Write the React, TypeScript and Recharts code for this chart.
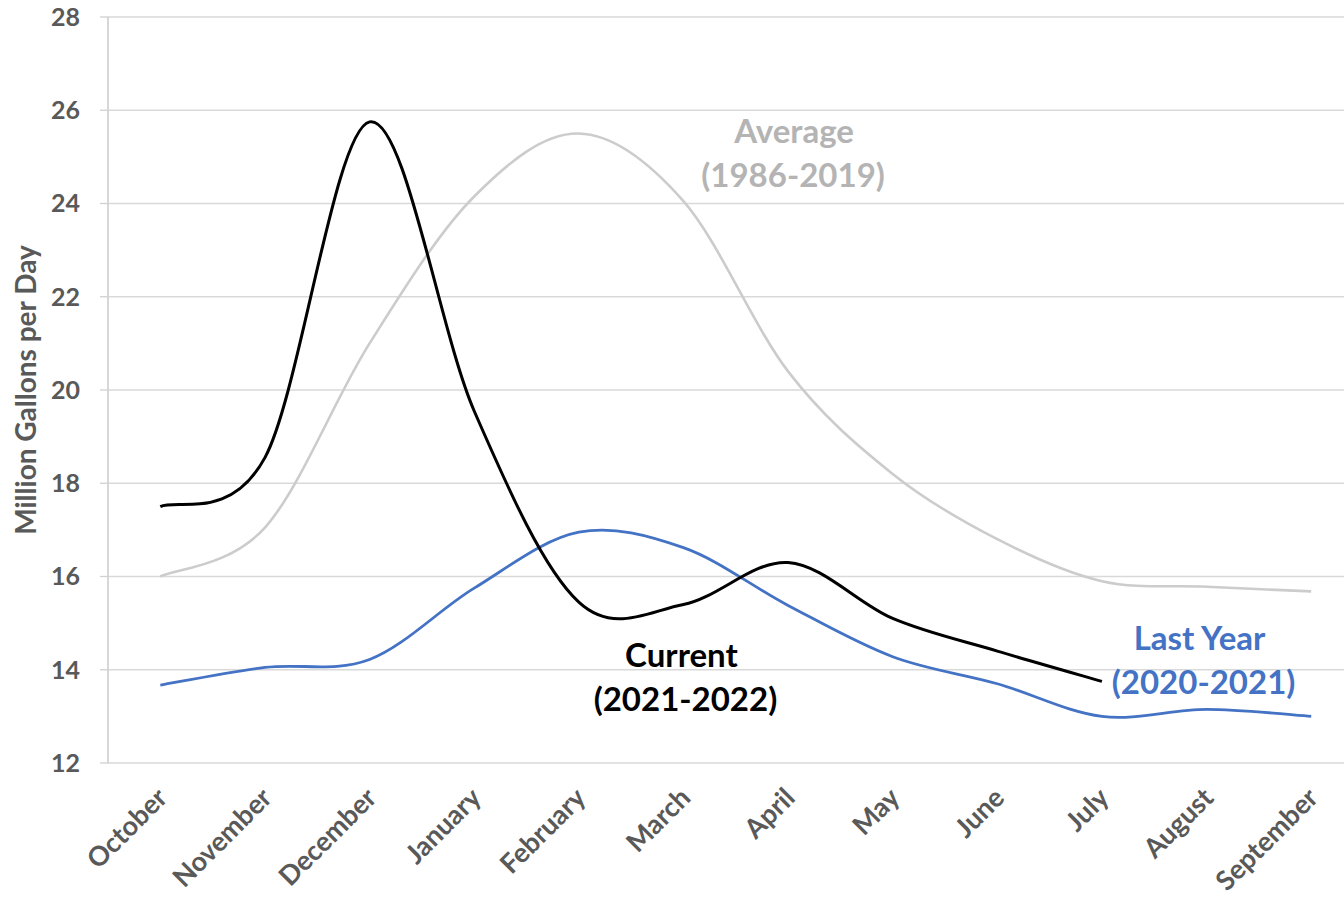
import React from 'react';
import { LineChart, Line, XAxis, YAxis, CartesianGrid, ReferenceDot, Label } from 'recharts';

const months = ['October', 'November', 'December', 'January', 'February', 'March', 'April', 'May', 'June', 'July', 'August', 'September'];
const current = [17.5, 18.55, 25.75, 19.55, 15.45, 15.4, 16.3, 15.1, 14.4, 13.75, null, null];
const average = [16.0, 17.05, 21.0, 24.15, 25.5, 24.05, 20.4, 18.2, 16.8, 15.9, 15.78, 15.68];
const lastYear = [13.67, 14.05, 14.22, 15.75, 16.95, 16.62, 15.38, 14.28, 13.7, 13.0, 13.15, 13.0];
const yTicks = [12, 14, 16, 18, 20, 22, 24, 26, 28];

const data = months.map((month, i) => ({
  idx: i,
  month,
  current: current[i],
  average: average[i],
  lastYear: lastYear[i],
}));

const monthTicks = months.map((_, i) => i);
const boundaryTicks = [...months.map((_, i) => i - 0.5), months.length - 0.5];
const xDomain = [-0.5, months.length - 0.5];

const notes = [
  { lines: ['Average', '(1986-2019)'], at: 'April', value: 25.3, color: '#b4b4b4', dx: [6, 5] },
  { lines: ['Current', '(2021-2022)'], at: 'March', value: 14.06, color: '#000000', dx: [-2, 2] },
  { lines: ['Last Year', '(2020-2021)'], at: 'August', value: 14.42, color: '#4472C4', dx: [-7, -3] },
];

// Excel-style smoothed line (uniform Catmull-Rom as cubic beziers)
function excelSmooth(context: any) {
  let pts: number[][] = [];
  return {
    areaStart() {},
    areaEnd() {},
    lineStart() { pts = []; },
    point(x: number, y: number) { pts.push([+x, +y]); },
    lineEnd() {
      const n = pts.length;
      if (!n) return;
      context.moveTo(pts[0][0], pts[0][1]);
      for (let i = 0; i < n - 1; i++) {
        const p0 = pts[Math.max(i - 1, 0)];
        const p1 = pts[i];
        const p2 = pts[i + 1];
        const p3 = pts[Math.min(i + 2, n - 1)];
        context.bezierCurveTo(
          p1[0] + (p2[0] - p0[0]) / 6, p1[1] + (p2[1] - p0[1]) / 6,
          p2[0] - (p3[0] - p1[0]) / 6, p2[1] - (p3[1] - p1[1]) / 6,
          p2[0], p2[1],
        );
      }
    },
  };
}

const yTickText = { fill: '#595959', fontSize: 25, fontWeight: 700 };
const xTickText = { fill: '#595959', fontSize: 27, fontWeight: 700, dx: -5 };

export default function App() {
  return (
    <div style={{
      position: 'absolute', left: 0, top: 0, width: 1344, height: 899,
      overflow: 'hidden', background: '#fff', fontFamily: 'Lato, sans-serif',
    }}>
      <LineChart width={1400} height={899} data={data} margin={{ top: 17, right: 36.5, left: 8, bottom: 0 }}>
        <CartesianGrid xAxisId="grid" stroke="#d9d9d9" strokeWidth={1.3} />
        <XAxis
          xAxisId="grid" type="number" dataKey="idx" domain={xDomain} ticks={boundaryTicks}
          interval={0} height={0} tick={false} tickSize={10}
          tickLine={{ stroke: '#d0d0d0', strokeWidth: 1.3 }} axisLine={{ stroke: '#d0d0d0', strokeWidth: 1.3 }}
        />
        <XAxis
          xAxisId="lab" type="number" dataKey="idx" domain={xDomain} ticks={monthTicks}
          interval={0} height={136} tickFormatter={(i: number) => months[i]}
          axisLine={false} tickLine={false} tickSize={10} tickMargin={13}
          angle={-45} textAnchor="end" tick={xTickText}
        />
        <YAxis
          domain={[12, 28]} ticks={yTicks} width={100} interval={0}
          tickSize={8} tickMargin={20} tick={yTickText}
          tickLine={{ stroke: '#d0d0d0', strokeWidth: 1.3 }} axisLine={{ stroke: '#d0d0d0', strokeWidth: 1.3 }}
        >
          <Label
            value="Million Gallons per Day" angle={-90} position="insideLeft" offset={18}
            textAnchor="middle" style={{ fill: '#595959', fontSize: 28, fontWeight: 700 }}
          />
        </YAxis>
        <Line xAxisId="lab" dataKey="average" type={excelSmooth as any} stroke="#cccccc" strokeWidth={2.6} dot={false} activeDot={false} isAnimationActive={false} />
        <Line xAxisId="lab" dataKey="lastYear" type={excelSmooth as any} stroke="#4472C4" strokeWidth={2.8} dot={false} activeDot={false} isAnimationActive={false} />
        <Line xAxisId="lab" dataKey="current" type={excelSmooth as any} stroke="#000000" strokeWidth={3} dot={false} activeDot={false} isAnimationActive={false} />
        {notes.map((n) => (
          <ReferenceDot
            key={n.lines[0]} xAxisId="lab" x={months.indexOf(n.at)} y={n.value} r={0}
            shape={(p: any) => (
              <text textAnchor="middle" fill={n.color} fontSize={33} fontWeight={700}>
                <tspan x={p.cx + n.dx[0]} y={p.cy}>{n.lines[0]}</tspan>
                <tspan x={p.cx + n.dx[1]} y={p.cy + 44}>{n.lines[1]}</tspan>
              </text>
            )}
          />
        ))}
      </LineChart>
    </div>
  );
}
